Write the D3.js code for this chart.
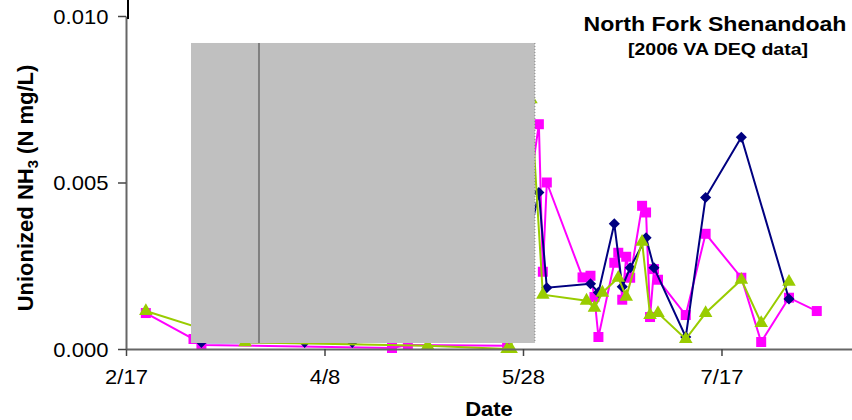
<!DOCTYPE html>
<html>
<head>
<meta charset="utf-8">
<script src="https://cdn.jsdelivr.net/npm/d3@7"></script>
<style>
	body { margin: 0; background: #fff; }
	svg { display: block; font-family: "Liberation Sans", Arial, sans-serif; }
</style>
</head>
<body>
<script>
const w = 852;
const h = 420;

// * DATA (dates in 2006)
const navyDates = ["3/8", "4/3", "4/15", "5/24", "6/1", "6/3", "6/14", "6/16", "6/20", "6/22", "6/24", "6/28", "6/30", "7/8", "7/13", "7/22", "8/3"];
const navyValues = [0.0002, 0.0002, 0.0002, 0.0003, 0.0047, 0.00184, 0.00196, 0.0017, 0.00376, 0.00187, 0.00244, 0.00334, 0.00244, 0.00036, 0.00455, 0.00636, 0.0015];

const pinkDates = ["2/22", "3/6", "3/8", "4/25", "4/29", "5/24", "6/1", "6/2", "6/3", "6/12", "6/14", "6/15", "6/16", "6/20", "6/21", "6/22", "6/23", "6/24", "6/27", "6/28", "6/29", "6/30", "7/1", "7/8", "7/13", "7/22", "7/27", "8/3", "8/10"];
const pinkValues = [0.00108, 0.0003, 0.00012, 0.00003, 0.00012, 0.0001, 0.00675, 0.00232, 0.005, 0.00215, 0.0022, 0.00156, 0.00036, 0.00259, 0.00289, 0.00148, 0.00277, 0.00214, 0.0043, 0.0041, 0.00096, 0.0024, 0.00208, 0.00102, 0.00346, 0.00214, 0.00021, 0.00154, 0.00114];

const greenDates = ["2/22", "3/19", "5/4", "5/24", "5/25", "5/30", "6/2", "6/13", "6/15", "6/17", "6/21", "6/23", "6/27", "6/29", "7/1", "7/8", "7/13", "7/22", "7/27", "8/3"];
const greenValues = [0.00114, 0.0002, 0.0001, 0, 0, 0.0075, 0.00163, 0.00145, 0.00124, 0.00169, 0.00214, 0.00157, 0.00322, 0.00102, 0.00108, 0.0003, 0.00108, 0.00208, 0.00078, 0.00202];

const xTicks = ["2/17", "4/8", "5/28", "7/17"];
const yTicks = [0, 0.005, 0.01];
const xRange = ["2/17", "8/19"];

// grey box laid over part of the plot
const maskStart = "2006-03-05T09:00";
const maskEnd = "2006-05-31T00:00";
const maskLine = "2006-03-22T12:00";
const maskLow = 0.00018;
const maskHigh = 0.00919;

const parseDay = (s) => d3.utcParse("%m/%d/%Y")(s + "/2006");
const parseTime = d3.utcParse("%Y-%m-%dT%H:%M");

const svg = d3.select("body").append("svg").attr("width", w).attr("height", h);

// * SCALES
const xScale = d3.scaleUtc().domain(xRange.map(parseDay)).range([126, 852.5]);
const yScale = d3.scaleLinear().domain([0, 0.01]).range([349, 16]);

// * SERIES
const series = [
	{ dates: pinkDates, values: pinkValues, color: "#ff00ff", shape: d3.symbolSquare, size: 100, rot: 0 },
	{ dates: navyDates, values: navyValues, color: "#000080", shape: d3.symbolSquare, size: 62, rot: 45 },
	{ dates: greenDates, values: greenValues, color: "#99cc00", shape: d3.symbolTriangle, size: 80, rot: 0 },
];

const line = d3.line().x((d) => xScale(d.date)).y((d) => yScale(d.value));

series.forEach((s) => {
	const pts = s.dates.map((d, i) => ({ date: parseDay(d), value: s.values[i] }));
	const g = svg.append("g");
	g.append("path")
		.datum(pts)
		.attr("fill", "none")
		.attr("stroke", s.color)
		.attr("stroke-width", 2)
		.attr("d", line);
	g.selectAll("path.pt")
		.data(pts)
		.enter()
		.append("path")
		.attr("class", "pt")
		.attr("d", d3.symbol().type(s.shape).size(s.size))
		.attr("transform", (d) => "translate(" + xScale(d.date) + "," + yScale(d.value) + ") rotate(" + s.rot + ")")
		.attr("fill", s.color);
});

// * GREY BOX
svg.append("rect")
	.attr("x", xScale(parseTime(maskStart)))
	.attr("y", yScale(maskHigh))
	.attr("width", xScale(parseTime(maskEnd)) - xScale(parseTime(maskStart)))
	.attr("height", yScale(maskLow) - yScale(maskHigh))
	.attr("fill", "#c0c0c0");
svg.append("line")
	.attr("x1", xScale(parseTime(maskEnd)))
	.attr("x2", xScale(parseTime(maskEnd)))
	.attr("y1", yScale(maskHigh))
	.attr("y2", yScale(maskLow))
	.attr("stroke", "#808080")
	.attr("stroke-dasharray", "1,2");
svg.append("line")
	.attr("x1", xScale(parseTime(maskLine)))
	.attr("x2", xScale(parseTime(maskLine)))
	.attr("y1", yScale(maskHigh))
	.attr("y2", yScale(maskLow))
	.attr("stroke", "#808080")
	.attr("stroke-width", 2);

// * AXES
const xAxis = d3.axisBottom(xScale)
	.tickValues(xTicks.map(parseDay))
	.tickFormat(d3.utcFormat("%-m/%-d"))
	.tickSize(7)
	.tickSizeOuter(0)
	.tickPadding(14);
const yAxis = d3.axisLeft(yScale)
	.tickValues(yTicks)
	.tickFormat(d3.format(".3f"))
	.tickSize(8)
	.tickSizeOuter(0)
	.tickPadding(10);

const gx = svg.append("g").attr("transform", "translate(0,349)").call(xAxis);
const gy = svg.append("g").attr("transform", "translate(126,0)").call(yAxis);

[gx, gy].forEach((g) => {
	g.select(".domain").attr("stroke", "#666").attr("stroke-width", 2);
	g.selectAll(".tick line").attr("stroke", "#444").attr("stroke-width", 1.5);
	g.selectAll(".tick text")
		.attr("fill", "#000")
		.style("font-size", "20px")
		.style("font-family", "'Liberation Sans', Arial, sans-serif");
});
gx.selectAll(".tick text").attr("transform", "scale(1.1,1)");
gy.selectAll(".tick text").attr("x", -16).attr("transform", "scale(1.1,1)").attr("dy", "0.36em");

// small mark above the y axis
svg.append("line")
	.attr("x1", 128).attr("x2", 128)
	.attr("y1", 0).attr("y2", 19)
	.attr("stroke", "#000").attr("stroke-width", 2);

// * LABELS
function label(text, x, y, size, stretch) {
	return svg.append("text")
		.attr("transform", "translate(" + x + "," + y + ") scale(" + stretch + ",1)")
		.attr("text-anchor", "middle")
		.style("font-size", size + "px")
		.style("font-weight", "bold")
		.text(text);
}
label("North Fork Shenandoah", 715, 31, 21, 1.1);
label("[2006 VA DEQ data]", 718, 55, 17, 1.15);
label("Date", 489, 416, 20, 1.1);

const yt = svg.append("text")
	.attr("transform", "translate(33,188) rotate(-90)")
	.attr("text-anchor", "middle")
	.style("font-size", "22px")
	.style("font-weight", "bold");
yt.append("tspan").text("Unionized NH");
yt.append("tspan").attr("dy", 5).style("font-size", "15px").text("3");
yt.append("tspan").attr("dy", -5).text(" (N mg/L)");
</script>
</body>
</html>
